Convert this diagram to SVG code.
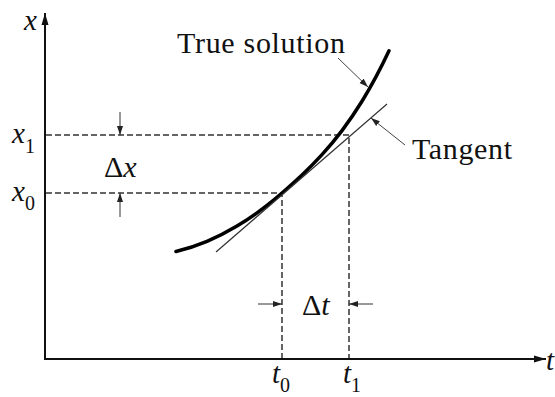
<svg xmlns="http://www.w3.org/2000/svg" width="555" height="397" viewBox="0 0 555 397">
<defs>
<style>
.axis{stroke:#111;stroke-width:2;fill:none}
.dash{stroke:#333;stroke-width:1.5;stroke-dasharray:6 3;fill:none}
.curve{stroke:#000;stroke-width:3.5;fill:none;stroke-linecap:round}
.tan{stroke:#333;stroke-width:1.2;fill:none}
.lead{stroke:#444;stroke-width:1;fill:none}
.dim{stroke:#333;stroke-width:1;fill:none}
text{font-family:"Liberation Serif","Times New Roman",serif;fill:#111}
.it{font-style:italic}
</style>
<marker id="axArrow" markerUnits="userSpaceOnUse" markerWidth="14" markerHeight="10" refX="12" refY="5" orient="auto">
<path d="M0,1.5 L12,5 L0,8.5 Z" fill="#111"/>
</marker>
<marker id="smArrow" markerUnits="userSpaceOnUse" markerWidth="10" markerHeight="8" refX="9" refY="4" orient="auto">
<path d="M0,1 L9,4 L0,7 Z" fill="#222"/>
</marker>
</defs>

<g id="axes">
<line class="axis" x1="45" y1="359" x2="45" y2="13" marker-end="url(#axArrow)"/>
<line class="axis" x1="44" y1="359" x2="546" y2="359" marker-end="url(#axArrow)"/>
</g>

<g id="guides">
<path class="dash" d="M46,135 H349 V358"/>
<path class="dash" d="M46,193 H282 V358"/>
</g>

<g id="true-solution">
<path class="curve" d="M176,251.5 C186.33,249.08 196.67,245.74 207,241.4 C217,237.2 227,232.1 237,226.1 C247,220.1 257,213.2 267,205.4 C272,201.5 277,197.35 282,193 C288.67,187.2 295.33,181.26 302,174.95 C308.67,168.64 315.33,161.94 322,154.63 C328.67,147.32 335.33,139.38 342,130.57 C348.67,121.76 355.33,112.07 362,101.28 C371,86.71 380,70.12 389,50.86"/>
</g>

<g id="tangent">
<line class="tan" x1="216" y1="252" x2="387" y2="104"/>
</g>

<g id="connectors">
<line class="lead" x1="338" y1="58" x2="368" y2="87" marker-end="url(#smArrow)"/>
<line class="lead" x1="405" y1="145" x2="371" y2="118" marker-end="url(#smArrow)"/>
<line class="dim" x1="120" y1="112" x2="120" y2="135" marker-end="url(#smArrow)"/>
<line class="dim" x1="120" y1="217" x2="120" y2="193" marker-end="url(#smArrow)"/>
<line class="dim" x1="258" y1="304" x2="282" y2="304" marker-end="url(#smArrow)"/>
<line class="dim" x1="373" y1="304" x2="349" y2="304" marker-end="url(#smArrow)"/>
</g>

<g id="labels">
<text class="it" x="24" y="30" font-size="29">x</text>
<text x="12" y="143" font-size="29"><tspan class="it">x</tspan><tspan font-size="20" dy="10">1</tspan></text>
<text x="12" y="201" font-size="29"><tspan class="it">x</tspan><tspan font-size="20" dy="9">0</tspan></text>
<text x="104" y="177" font-size="30">Δ<tspan class="it">x</tspan></text>
<text x="302" y="315" font-size="30">Δ<tspan class="it">t</tspan></text>
<text x="272" y="383" font-size="29"><tspan class="it">t</tspan><tspan font-size="20" dy="9">0</tspan></text>
<text x="343" y="383" font-size="29"><tspan class="it">t</tspan><tspan font-size="20" dy="9">1</tspan></text>
<text class="it" x="546" y="370" font-size="29">t</text>
<text x="177" y="53" font-size="30" textLength="168" lengthAdjust="spacing">True solution</text>
<text x="412" y="159" font-size="30" textLength="100" lengthAdjust="spacing">Tangent</text>
</g>
</svg>
